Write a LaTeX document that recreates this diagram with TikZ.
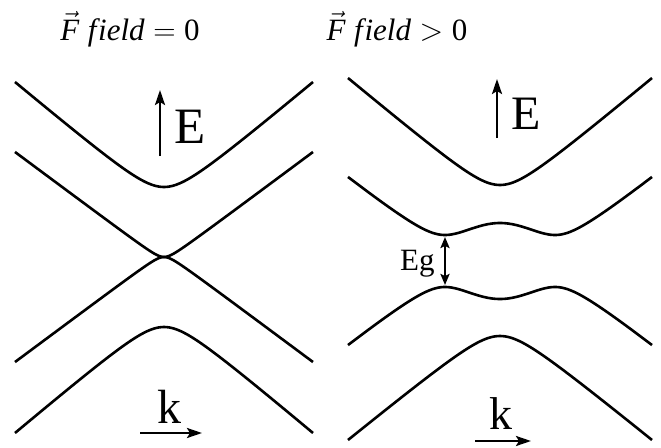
\RequirePackage{fix-cm}
\documentclass[tikz,border=0pt]{standalone}
\usepackage{fontspec}
\setmainfont{Liberation Serif}
\usetikzlibrary{arrows.meta}
\begin{document}
\begin{tikzpicture}[x=1pt,y=-1pt,
  declare function={sq(\t)=(\t)*(\t);
    hb(\u,\a,\s)=10*sqrt(sq(\a/10)+sq(\s*\u))-\a;
    dw(\u)=10*sqrt(2.25+0.6429*sq(sqrt(\u*\u+16)-6.8))-15;},
  band/.style={line width=2.6pt,line join=round},
  axarrow/.style={line width=2.4pt,-{Stealth[length=15pt,width=10pt,inset=3pt]}},
  gaparrow/.style={line width=2.3pt,{Stealth[length=11pt,width=9pt,inset=2pt]}-{Stealth[length=11pt,width=9pt,inset=2pt]}},
  lbl/.style={inner sep=0pt,anchor=base west},
  ttl/.style={inner sep=0pt,anchor=base,font=\fontsize{31}{33}\selectfont}]
\useasboundingbox (0,0) rectangle (661,447);
% titles
\node[ttl] (t1) at (130,40) {$\vec{\mathit{F}}\;\mathit{f}\mkern1mu\mathit{ield}=\mathrm{0}$};
\node[ttl] (t2) at (397,40) {$\vec{\mathit{F}}\;\mathit{f}\mkern1mu\mathit{ield}>\mathrm{0}$};
% left panel bands
\draw[band] plot[domain=-14.9:14.9,samples=121] ({164+10*\x},{187-hb(\x,22,0.8395)});
\draw[band] plot[domain=-14.9:14.9,samples=121] ({164+10*\x},{257-hb(\x,6,0.744)});
\draw[band] plot[domain=-14.9:14.9,samples=121] ({164+10*\x},{257+hb(\x,6,0.744)});
\draw[band] plot[domain=-14.9:14.9,samples=121] ({164+10*\x},{327+hb(\x,22,0.8462)});
% right panel bands
\draw[band] plot[domain=-15.2:15.2,samples=121] ({500+10*\x},{185-hb(\x,22,0.8362)});
\draw[band] plot[domain=-15.2:15.2,samples=151] ({500+10*\x},{235-dw(\x)});
\draw[band] plot[domain=-15.2:15.2,samples=151] ({500+10*\x},{287+dw(\x)});
\draw[band] plot[domain=-15.2:15.2,samples=121] ({500+10*\x},{336+hb(\x,22,0.8162)});
% E axes
\coordinate (e1b) at (160,156); \coordinate (e1t) at (160,90);
\draw[axarrow] (e1b) -- (e1t);
\node[lbl] (E1) at (174,143) {\fontsize{51}{51}\selectfont E};
\coordinate (e2b) at (497,138); \coordinate (e2t) at (497,79);
\draw[axarrow] (e2b) -- (e2t);
\node[lbl] (E2) at (511,129) {\fontsize{48}{48}\selectfont E};
% k axes
\coordinate (k1l) at (140,433); \coordinate (k1r) at (202,433);
\draw[axarrow] (k1l) -- (k1r);
\node[lbl] (K1) at (157,423) {\fontsize{48}{48}\selectfont k};
\coordinate (k2l) at (475,441); \coordinate (k2r) at (531,441);
\draw[axarrow] (k2l) -- (k2r);
\node[lbl] (K2) at (489,429) {\fontsize{46}{46}\selectfont k};
% gap
\coordinate (g1) at (445,237) ; \coordinate (g2) at (445,285);
\draw[gaparrow] (g1) -- (g2);
\node[lbl] (Eg) at (400,270) {\fontsize{31}{31}\selectfont Eg};
\end{tikzpicture}
\end{document}
